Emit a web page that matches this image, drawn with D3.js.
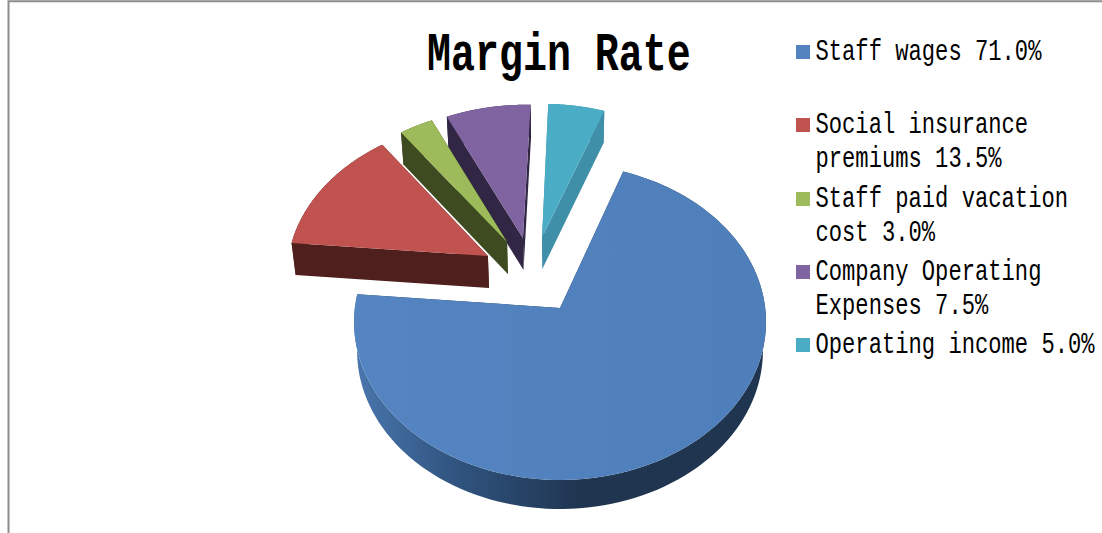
<!DOCTYPE html>
<html><head><meta charset="utf-8">
<script src="https://cdn.jsdelivr.net/npm/d3@7/dist/d3.min.js"></script>
<style>html,body{margin:0;padding:0;background:#fff}svg{display:block}</style>
</head><body><svg id="c" width="1102" height="533"></svg>
<script>
const categories = ["Staff wages","Social insurance premiums","Staff paid vacation cost","Company Operating Expenses","Operating income"];
const values = [71.0,13.5,3.0,7.5,5.0];
const colors = ["#5283bf","#c0524f","#9dbb5a","#8064a2","#4bacc6"];
const wallColors = ["#1f3550","#4e1f1c","#3e4a20","#312643","#408fa8"];
const legendLines = [["Staff wages 71.0%"],["Social insurance","premiums 13.5%"],["Staff paid vacation","cost 3.0%"],["Company Operating","Expenses 7.5%"],["Operating income 5.0%"]];
const legendTops = [45,118,192,265,338];
// layout of the exploded view, in unit-disc coordinates
const explodeU = [0,-.362,-.268,-.188,-.091];
const explodeV = [0,-.342,-.437,-.465,-.472];
const depths = [29,32,32,32,32];

const svg = d3.select("#c");
const X = d3.scaleLinear().domain([-1,1]).range([354,766]);
const Y = d3.scaleLinear().domain([-1,1]).range([164,480]);
const a = -0.0886, shrink = 0.985;
const rad = d => d*Math.PI/180;
function project(u,v,depth){
  const w = 1+a*v;
  let px = u*Math.sqrt(1-a*a)/w, py = (v+a)/w;
  return depth ? [X(px*shrink), Y(py)+depth] : [X(px), Y(py)];
}
const pie = d3.pie().sort(null).startAngle(rad(19.5)).endAngle(rad(379.5));
const arcs = pie(values);
const line = d3.line().curve(d3.curveLinear);
function arcPts(d,i,depth){
  return d3.range(0,121).map(k=>{
    const th = d.startAngle+(d.endAngle-d.startAngle)*k/120;
    return project(Math.sin(th)+explodeU[i],-Math.cos(th)+explodeV[i],depth);
  });
}
const defs = svg.append("defs");
const gw = defs.append("linearGradient").attr("id","wall").attr("gradientUnits","userSpaceOnUse")
  .attr("x1",X(-1)).attr("x2",X(0.1)).attr("y1",0).attr("y2",0);
gw.append("stop").attr("offset",0).attr("stop-color","#4a77ae");
gw.append("stop").attr("offset",.45).attr("stop-color","#30547f");
gw.append("stop").attr("offset",1).attr("stop-color","#1f3550");
const gt = defs.append("linearGradient").attr("id","top").attr("gradientUnits","userSpaceOnUse")
  .attr("x1",X(-1)).attr("x2",X(1)).attr("y1",0).attr("y2",0);
gt.append("stop").attr("offset",0).attr("stop-color","#5485c2");
gt.append("stop").attr("offset",1).attr("stop-color","#4e7fba");

// frame
svg.append("path").attr("d",line([[8.5,533],[8.5,1.2],[1102,1.2]])).attr("fill","none").attr("stroke","#8c8c8c").attr("stroke-width",2);

// slices back to front
[4,3,2,1,0].forEach(i=>{
  const d = arcs[i], g = svg.append("g"), dp = depths[i];
  const top = arcPts(d,i,0), bot = arcPts(d,i,dp);
  const c0 = project(explodeU[i],explodeV[i],0), c1 = project(explodeU[i],explodeV[i],dp);
  const fillW = i===0?"url(#wall)":wallColors[i];
  g.append("path").attr("d",line([c0,top[0],bot[0],c1])+"Z").attr("fill",wallColors[i]);
  g.append("path").attr("d",line([c0,top[120],bot[120],c1])+"Z").attr("fill",wallColors[i]);
  g.append("path").attr("d",line(top.concat(bot.slice().reverse()))+"Z").attr("fill",fillW);
  g.append("path").attr("d",line([c0].concat(top))+"Z").attr("fill",i===0?"url(#top)":colors[i]);
});

// title
const font = "'Liberation Mono','DejaVu Sans Mono',monospace";
svg.append("text").attr("transform","translate(427,70) scale(.74,1)").attr("font-family",font)
  .attr("font-size",54).attr("font-weight","bold").attr("fill","#000").text("Margin Rate");

// legend
const sw = 14, lineH = 34;
categories.forEach((c,i)=>{
  const top = legendTops[i];
  svg.append("rect").attr("x",796).attr("y",top).attr("width",sw).attr("height",sw).attr("fill",colors[i]);
  legendLines[i].forEach((s,k)=>{
    svg.append("text").attr("transform",`translate(815.5,${top+15+k*lineH}) scale(.764,1)`)
      .attr("font-family",font).attr("font-size",29).attr("fill","#000").text(s);
  });
});
</script></body></html>
